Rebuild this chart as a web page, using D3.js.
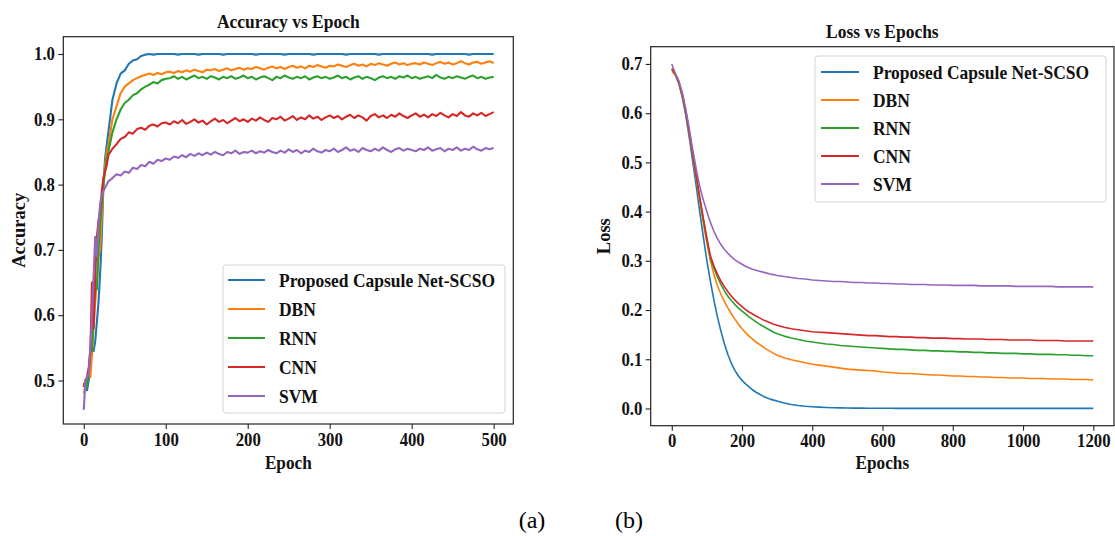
<!DOCTYPE html>
<html>
<head>
<meta charset="utf-8">
<script src="https://cdn.jsdelivr.net/npm/d3@7"></script>
<style>
  html, body { margin: 0; padding: 0; background: #fff; }
  svg { display: block; }
  text { font-family: "Liberation Serif", "Times New Roman", serif; }
</style>
</head>
<body>
<svg id="chart" width="1115" height="536"></svg>
<script>
// ---------------- DATA ----------------
const seriesNames = ["Proposed Capsule Net-SCSO", "DBN", "RNN", "CNN", "SVM"];
const seriesColors = ["#1f77b4", "#ff7f0e", "#2ca02c", "#d62728", "#9467bd"];

// (a) Accuracy vs Epoch : epochs 0..28 step 2, then 30..500 step 5
const accEpochs = d3.range(0, 30, 2).concat(d3.range(30, 505, 5));
const accProposed = [0.49,0.50,0.485,0.50,0.52,0.55,0.545,0.56,0.59,0.62,0.665,0.72,0.80,0.84,0.86,
  0.88,0.93,0.955,0.97,0.975,0.985,0.99,0.992,0.997,0.999,1.0,0.999,1.0,1.0,1.0,
  1.0,1.0,0.999,1.0,1.0,1.0,1.0,0.999,1.0,1.0,1.0,1.0,1.0,0.999,1.0,1.0,1.0,1.0,1.0,1.0,
  1.0,0.999,1.0,1.0,1.0,1.0,1.0,1.0,0.999,1.0,1.0,1.0,1.0,1.0,1.0,0.999,1.0,1.0,1.0,1.0,
  1.0,1.0,1.0,0.999,1.0,1.0,1.0,1.0,1.0,1.0,1.0,0.999,1.0,1.0,1.0,1.0,1.0,1.0,1.0,1.0,
  1.0,1.0,1.0,1.0,0.999,1.0,1.0,1.0,1.0,1.0,1.0,1.0,1.0,0.999,1.0,1.0,1.0,1.0,1.0,1.0];
const accDBN = [0.48,0.49,0.50,0.51,0.505,0.54,0.58,0.62,0.65,0.69,0.70,0.75,0.80,0.83,0.85,
  0.86,0.90,0.92,0.94,0.95,0.955,0.96,0.963,0.966,0.968,0.97,0.968,0.971,0.969,0.972,
  0.973,0.971,0.974,0.972,0.975,0.973,0.976,0.974,0.972,0.976,0.975,0.977,0.974,0.976,0.978,0.975,0.977,0.979,0.976,0.978,
  0.977,0.98,0.978,0.976,0.979,0.981,0.978,0.98,0.977,0.98,0.982,0.979,0.981,0.978,0.982,0.98,0.983,0.981,0.979,0.982,
  0.981,0.984,0.982,0.98,0.983,0.985,0.982,0.984,0.981,0.985,0.983,0.986,0.984,0.982,0.985,0.987,0.984,0.986,0.983,0.985,
  0.986,0.984,0.987,0.985,0.983,0.986,0.988,0.985,0.987,0.984,0.986,0.989,0.986,0.984,0.987,0.988,0.985,0.987,0.989,0.986];
const accRNN = [0.49,0.50,0.49,0.51,0.55,0.545,0.60,0.64,0.64,0.70,0.74,0.77,0.80,0.82,0.84,
  0.85,0.88,0.90,0.915,0.925,0.93,0.937,0.94,0.946,0.95,0.953,0.957,0.955,0.96,0.962,
  0.963,0.966,0.962,0.965,0.961,0.964,0.967,0.963,0.965,0.962,0.966,0.964,0.961,0.965,0.963,0.966,0.962,0.964,0.967,0.963,
  0.965,0.961,0.964,0.966,0.963,0.96,0.965,0.963,0.967,0.964,0.962,0.965,0.963,0.966,0.961,0.964,0.966,0.963,0.965,0.962,
  0.964,0.967,0.963,0.965,0.961,0.964,0.966,0.962,0.965,0.963,0.96,0.964,0.966,0.963,0.965,0.962,0.966,0.964,0.967,0.963,
  0.965,0.962,0.964,0.966,0.963,0.968,0.964,0.962,0.965,0.963,0.966,0.964,0.962,0.965,0.967,0.963,0.965,0.962,0.964,0.965];
const accCNN = [0.49,0.50,0.505,0.52,0.54,0.65,0.58,0.66,0.72,0.745,0.76,0.79,0.81,0.82,0.83,
  0.845,0.855,0.862,0.87,0.873,0.88,0.878,0.885,0.887,0.884,0.89,0.892,0.889,0.894,0.895,
  0.892,0.897,0.894,0.899,0.893,0.896,0.9,0.895,0.898,0.892,0.897,0.901,0.896,0.899,0.894,0.898,0.902,0.897,0.9,0.896,
  0.901,0.898,0.903,0.899,0.896,0.902,0.9,0.904,0.898,0.901,0.905,0.899,0.903,0.9,0.906,0.901,0.904,0.899,0.903,0.906,
  0.902,0.905,0.9,0.904,0.907,0.902,0.906,0.903,0.898,0.905,0.908,0.903,0.906,0.902,0.907,0.904,0.909,0.905,0.902,0.906,
  0.909,0.904,0.907,0.903,0.908,0.905,0.91,0.906,0.903,0.908,0.905,0.911,0.906,0.904,0.909,0.906,0.91,0.905,0.908,0.911];
const accSVM = [0.455,0.50,0.505,0.51,0.55,0.60,0.66,0.72,0.69,0.74,0.77,0.785,0.79,0.795,0.80,
  0.805,0.81,0.816,0.814,0.82,0.818,0.826,0.824,0.83,0.828,0.835,0.832,0.838,0.836,0.84,
  0.838,0.843,0.841,0.845,0.842,0.847,0.844,0.848,0.845,0.849,0.846,0.85,0.847,0.845,0.85,0.848,0.852,0.847,0.85,0.849,
  0.852,0.848,0.851,0.849,0.853,0.85,0.848,0.852,0.849,0.854,0.85,0.853,0.848,0.852,0.85,0.855,0.851,0.849,0.853,0.851,
  0.855,0.85,0.853,0.857,0.852,0.854,0.85,0.856,0.853,0.851,0.855,0.852,0.857,0.853,0.85,0.854,0.856,0.852,0.855,0.853,
  0.851,0.855,0.853,0.857,0.852,0.854,0.856,0.851,0.855,0.853,0.857,0.852,0.855,0.853,0.858,0.854,0.852,0.856,0.854,0.856];
const accXTicks = [0, 100, 200, 300, 400, 500];
const accYTicks = [0.5, 0.6, 0.7, 0.8, 0.9, 1.0];

// (b) Loss vs Epochs : epochs 0..300 step 10, then 320..1200 step 20
const lossEpochs = d3.range(0, 310, 10).concat(d3.range(320, 1220, 20));
const lossProposed = [0.69,0.678,0.66,0.632,0.595,0.55,0.50,0.45,0.398,0.348,0.30,0.258,0.22,0.186,0.157,0.131,0.109,0.091,0.077,0.066,0.057,0.05,0.044,0.038,0.033,0.029,0.025,0.022,0.019,0.017,0.015,
  0.011,0.008,0.006,0.0045,0.0035,0.0027,0.002,0.0016,0.0013,0.001,0.0008,0.0007,0.0006,0.0005,0.0004,0.0004,0.0003,0.0003,0.0003,0.0002,0.0002,0.0002,0.0002,0.0002,0.0001,
  0.0001,0.0001,0.0001,0.0001,0.0001,0.0001,0.0001,0.0001,0.0001,0.0001,0.0001,0.0001,0.0001,0.0001,0.0001,0.0001,0.0001,0.0001,0.0001,0.0001];
const lossDBN = [0.685,0.677,0.661,0.635,0.6,0.558,0.512,0.465,0.42,0.376,0.336,0.3,0.272,0.25,0.232,0.217,0.204,0.192,0.181,0.171,0.162,0.154,0.147,0.141,0.135,0.13,0.125,0.12,0.116,0.112,0.108,
  0.103,0.099,0.096,0.093,0.09,0.088,0.086,0.084,0.082,0.08,0.079,0.078,0.077,0.076,0.074,0.073,0.072,0.071,0.071,0.07,0.069,0.068,0.068,0.067,0.066,
  0.066,0.065,0.065,0.064,0.064,0.063,0.063,0.062,0.062,0.062,0.061,0.061,0.061,0.06,0.06,0.06,0.059,0.059,0.059,0.058];
const lossRNN = [0.69,0.679,0.663,0.637,0.602,0.56,0.515,0.47,0.425,0.382,0.342,0.305,0.285,0.267,0.252,0.239,0.228,0.219,0.211,0.204,0.198,0.192,0.186,0.181,0.176,0.171,0.167,0.163,0.159,0.155,0.152,
  0.147,0.143,0.14,0.137,0.135,0.133,0.131,0.13,0.128,0.127,0.126,0.125,0.124,0.123,0.122,0.121,0.12,0.12,0.119,0.118,0.118,0.117,0.117,0.116,0.116,
  0.115,0.115,0.114,0.114,0.113,0.113,0.112,0.112,0.112,0.111,0.111,0.11,0.11,0.11,0.109,0.109,0.108,0.108,0.107,0.107];
const lossCNN = [0.69,0.68,0.664,0.638,0.603,0.562,0.517,0.472,0.428,0.386,0.346,0.31,0.29,0.273,0.259,0.247,0.237,0.228,0.22,0.213,0.207,0.201,0.196,0.192,0.188,0.184,0.18,0.177,0.174,0.171,0.169,
  0.165,0.162,0.16,0.158,0.156,0.155,0.154,0.153,0.152,0.151,0.15,0.149,0.148,0.148,0.147,0.146,0.146,0.145,0.145,0.144,0.144,0.143,0.143,0.143,0.142,
  0.142,0.141,0.141,0.141,0.14,0.14,0.14,0.139,0.139,0.139,0.139,0.138,0.138,0.138,0.138,0.137,0.137,0.137,0.137,0.137];
const lossSVM = [0.70,0.681,0.666,0.642,0.608,0.568,0.525,0.485,0.45,0.423,0.40,0.378,0.36,0.345,0.333,0.323,0.315,0.308,0.302,0.297,0.293,0.289,0.286,0.283,0.281,0.279,0.277,0.275,0.273,0.272,0.27,
  0.268,0.266,0.264,0.263,0.261,0.26,0.259,0.258,0.258,0.257,0.256,0.256,0.255,0.255,0.254,0.254,0.253,0.253,0.252,0.252,0.252,0.251,0.251,0.251,0.25,
  0.25,0.25,0.25,0.249,0.249,0.249,0.249,0.249,0.248,0.248,0.248,0.248,0.248,0.248,0.247,0.247,0.247,0.247,0.247,0.247];
const lossXTicks = [0, 200, 400, 600, 800, 1000, 1200];
const lossYTicks = [0.0, 0.1, 0.2, 0.3, 0.4, 0.5, 0.6, 0.7];

// ---------------- DRAW ----------------
const svg = d3.select("#chart");
const TICK_FONT = 18, LABEL_FONT = 18.5, TITLE_FONT = 18.8, LEGEND_FONT = 18.8;
const SQUEEZE = 0.93;   // the reference glyphs are slightly narrow

function drawPanel(cfg) {
  const g = svg.append("g");
  const x = d3.scaleLinear().domain(cfg.xDomain).range([cfg.left, cfg.right]);
  const y = d3.scaleLinear().domain(cfg.yDomain).range([cfg.bottom, cfg.top]);

  const line = d3.line().x(d => x(d[0])).y(d => y(d[1]));
  cfg.series.forEach((vals, i) => {
    g.append("path")
      .datum(cfg.xs.map((e, j) => [e, vals[j]]))
      .attr("fill", "none")
      .attr("stroke", seriesColors[i])
      .attr("stroke-width", cfg.lineWidth)
      .attr("stroke-linejoin", "round")
      .attr("d", line);
  });

  // frame
  g.append("rect")
    .attr("x", cfg.left).attr("y", cfg.top)
    .attr("width", cfg.right - cfg.left).attr("height", cfg.bottom - cfg.top)
    .attr("fill", "none").attr("stroke", "#222").attr("stroke-width", 1.2);

  const xAxis = g.append("g").attr("transform", `translate(0,${cfg.bottom})`)
    .call(d3.axisBottom(x).tickValues(cfg.xTicks).tickSize(5).tickPadding(4).tickFormat(d3.format("d")));
  const yAxis = g.append("g").attr("transform", `translate(${cfg.left},0)`)
    .call(d3.axisLeft(y).tickValues(cfg.yTicks).tickSize(5).tickPadding(4).tickFormat(d3.format(".1f")));
  [xAxis, yAxis].forEach(a => {
    a.select(".domain").remove();
    a.selectAll(".tick line").attr("stroke", "#222").attr("stroke-width", 1.1);
    a.selectAll(".tick text")
      .attr("fill", "#111")
      .attr("transform", `scale(${SQUEEZE},1)`)
      .style("font-family", '"Liberation Serif", "Times New Roman", serif')
      .style("font-weight", "bold")
      .style("font-size", TICK_FONT + "px");
  });

  const addText = (x0, y0, str, size, anchor) =>
    g.append("text")
      .attr("transform", `translate(${x0},${y0}) scale(${SQUEEZE},1)`)
      .attr("text-anchor", anchor).attr("font-weight", "bold")
      .attr("font-size", size).attr("fill", "#111").text(str);

  addText((cfg.left + cfg.right) / 2, cfg.titleY, cfg.title, TITLE_FONT, "middle");
  addText((cfg.left + cfg.right) / 2, 469, cfg.xLabel, LABEL_FONT, "middle");
  g.append("text")
    .attr("transform", `translate(${cfg.yLabelX},${(cfg.top + cfg.bottom) / 2}) rotate(-90)`)
    .attr("text-anchor", "middle").attr("font-weight", "bold")
    .attr("font-size", LABEL_FONT).attr("fill", "#111").text(cfg.yLabel);

  // legend
  const L = cfg.legend;
  g.append("rect")
    .attr("x", L.x0).attr("y", L.y0).attr("width", L.x1 - L.x0).attr("height", L.y1 - L.y0)
    .attr("rx", 3).attr("ry", 3)
    .attr("fill", "#fff").attr("fill-opacity", 0.85)
    .attr("stroke", "#d4d4d4").attr("stroke-width", 1);
  seriesNames.forEach((name, i) => {
    const cy = L.row0 + i * L.rowStep;
    g.append("line")
      .attr("x1", L.lineX0).attr("x2", L.lineX1).attr("y1", cy).attr("y2", cy)
      .attr("stroke", seriesColors[i]).attr("stroke-width", 2.2);
    addText(L.textX, cy + 6.5, name, LEGEND_FONT, "start");
  });
}

drawPanel({
  xs: accEpochs,
  series: [accProposed, accDBN, accRNN, accCNN, accSVM],
  xDomain: [-24.95, 523.95], yDomain: [0.4334, 1.0265],
  left: 63.3, right: 513.3, top: 36.7, bottom: 424,
  xTicks: accXTicks, yTicks: accYTicks,
  lineWidth: 2.1,
  title: "Accuracy vs Epoch", titleY: 28,
  xLabel: "Epoch",
  yLabel: "Accuracy", yLabelX: 24.5,
  legend: { x0: 223, x1: 505, y0: 265, y1: 413, row0: 280, rowStep: 29, lineX0: 228, lineX1: 265, textX: 279 }
});

drawPanel({
  xs: lossEpochs,
  series: [lossProposed, lossDBN, lossRNN, lossCNN, lossSVM],
  xDomain: [-59.95, 1258.95], yDomain: [-0.035, 0.735],
  left: 650.7, right: 1114, top: 46.7, bottom: 425.7,
  xTicks: lossXTicks, yTicks: lossYTicks,
  lineWidth: 1.6,
  title: "Loss vs Epochs", titleY: 38,
  xLabel: "Epochs",
  yLabel: "Loss", yLabelX: 609.5,
  legend: { x0: 815, x1: 1106, y0: 56, y1: 202, row0: 72, rowStep: 28, lineX0: 821, lineX1: 859, textX: 873 }
});

// sub-figure captions
svg.append("text").attr("x", 532).attr("y", 528).attr("text-anchor", "middle")
  .attr("font-size", 24).attr("fill", "#000").text("(a)");
svg.append("text").attr("x", 629).attr("y", 528).attr("text-anchor", "middle")
  .attr("font-size", 24).attr("fill", "#000").text("(b)");
</script>
</body>
</html>
